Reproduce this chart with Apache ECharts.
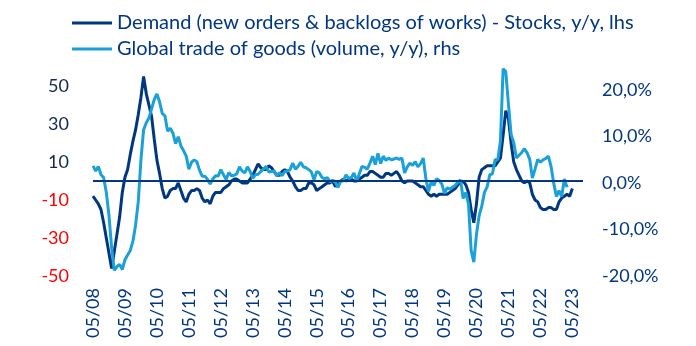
<!DOCTYPE html>
<html>
<head>
<meta charset="utf-8">
<script src="https://cdn.jsdelivr.net/npm/echarts@6/dist/echarts.min.js"></script>
<style>
  html, body { margin: 0; padding: 0; background: #ffffff; }
  #chart { width: 696px; height: 346px; }
</style>
</head>
<body>
<div id="chart"></div>
<script>
// Monthly observations starting May 2008
const startYear = 2008;
const startMonth = 5;
const monthCount = 185; // axis runs to Sep 2023

// Demand (new orders & backlogs of works) - Stocks, y/y (left axis)
const demandStocks = [
  -8, -10, -12, -15, -22, -30, -38, -46, -37, -28,
  -19, -6, 2, 6, 14, 21, 27, 35, 44, 55,
  46, 40, 34, 22, 11, 4, -4, -9, -8, -5,
  -4, -4, -1, -5, -9, -11, -7, -5, -5, -4,
  -5, -9, -11, -10, -12, -8, -6, -6, -6, -4,
  -3, -2, 0, 1, 1, 0, -1, -1, -1, 1,
  3, 6, 9, 7, 6, 6, 8, 7, 5, 3,
  3, 5, 6, 5, 2, 0, -3, -5, -5, -4,
  -4, -1, -1, -2, -5, -4, -3, -2, -1, -1,
  0, -3, -1, 0, 1, 0, 1, 1, 0, 0,
  1, 2, 3, 3, 5, 5, 4, 3, 2, 2,
  4, 4, 3, 4, 5, 3, 0, -1, 0, 0,
  0, -1, -2, -3, -3, -5, -7, -8, -7, -8,
  -7, -7, -7, -7, -6, -5, -4, -2, -1, 0,
  -2, -6, -15, -22, -12, 2, 6, 7, 8, 8,
  8, 8, 10, 12, 24, 37, 33, 20, 10, 6,
  3, 0, -1, 0, -1, -7, -10, -11, -14, -15,
  -15, -14, -14, -15, -15, -11, -9, -8, -7, -8,
  -4
];

// Global trade of goods (volume, y/y), % (right axis)
const globalTrade = [
  3.7, 2.6, 3.6, 1.8, 1.2, -2.0, -7.0, -14.0, -18.8, -18.0,
  -17.5, -18.6, -16.5, -15.5, -14.5, -12.5, -9.0, -4.0, 5.0, 11.5,
  13.0, 14.0, 16.0, 18.0, 19.2, 17.5, 15.0, 14.5, 11.2, 11.8,
  10.8, 8.5, 10.0, 8.0, 7.0, 5.8, 3.0, 4.5, 5.0, 4.6,
  2.8, 1.5, 1.5, 0.8, -0.2, 0.9, 1.6, 1.5, 2.9, 1.8,
  0.8, 2.3, 1.6, 1.7, 2.0, 3.5, 2.6, 2.2, 3.5, 2.5,
  1.0, 1.8, 1.9, 2.5, 3.0, 3.6, 2.4, 2.5, 2.6, 1.6,
  2.2, 1.6, 2.5, 2.6, 2.9, 4.3, 3.0, 3.6, 4.5, 3.5,
  3.3, 2.9, 2.4, 0.7, 2.5, 2.2, 1.2, 0.9, 1.2, 0.3,
  0.6, 0.2, -0.9, 0.4, 0.5, 1.8, 1.0, 1.2, 2.2, 0.4,
  2.0, 3.6, 3.4, 3.0, 4.3, 5.8, 4.0, 6.4, 4.2, 5.8,
  4.9, 5.4, 5.0, 5.2, 5.4, 5.1, 5.4, 2.2, 3.5, 4.3,
  3.8, 4.6, 3.5, 4.2, 5.4, 1.0, -1.8, 0.3, -0.5, 0.9,
  0.6, -0.2, -2.2, -1.0, -1.3, -0.9, -0.5, 0.2, 0.7, -3.3,
  -2.0, -4.5, -14.5, -17.0, -11.0, -7.0, -4.9, -2.0, -0.8, 1.8,
  2.0, 5.1, 5.0, 9.0, 24.6, 24.0, 17.0, 10.5, 8.7, 5.4,
  6.0, 6.6, 7.4, 6.5, 5.1, 1.1, 3.0, 5.1, 4.5, 5.0,
  5.3, 5.8, 3.6, 0.0, -2.9, -1.6, -2.9, 0.9, -0.9
];

// Left and right tick settings
const leftTicks = { min: -50, max: 60, step: 20 };
const rightTicks = { min: -20, max: 25, step: 10 };

const seriesNames = [
  'Demand (new orders & backlogs of works) - Stocks, y/y, lhs',
  'Global trade of goods (volume, y/y), rhs'
];

// Category labels in MM/YY form
const months = [];
for (let k = 0; k < monthCount; k++) {
  const m = (startMonth - 1 + k) % 12 + 1;
  const y = startYear + Math.floor((startMonth - 1 + k) / 12);
  months.push(String(m).padStart(2, '0') + '/' + String(y % 100).padStart(2, '0'));
}

const navy = '#003781';
const sky = '#1ba0d7';
const fontFamily = 'Lato, "Noto Sans", sans-serif';

const chart = echarts.init(document.getElementById('chart'), null, { renderer: 'canvas' });

chart.setOption({
  animation: false,
  backgroundColor: '#ffffff',
  textStyle: { fontFamily: fontFamily },
  legend: {
    orient: 'vertical',
    left: 67,
    top: 8,
    itemWidth: 40,
    itemHeight: 3,
    itemGap: 6,
    icon: 'rect',
    textStyle: { color: navy, fontSize: 20, fontFamily: fontFamily, lineHeight: 20 },
    data: seriesNames
  },
  grid: { left: 93, right: 113, top: 67, bottom: 70, containLabel: false },
  xAxis: {
    type: 'category',
    data: months,
    boundaryGap: false,
    axisLine: { show: false },
    axisTick: { show: false },
    splitLine: { show: false },
    axisLabel: {
      interval: 11,
      rotate: 90,
      margin: 12,
      color: navy,
      fontSize: 18,
      fontFamily: fontFamily
    }
  },
  yAxis: [
    {
      type: 'value',
      min: leftTicks.min,
      max: leftTicks.max,
      interval: leftTicks.step,
      axisLine: { show: false },
      axisTick: { show: false },
      splitLine: { show: false },
      axisLabel: {
        showMaxLabel: false,
        margin: 24,
        fontSize: 18,
        fontFamily: fontFamily,
        color: function (v) { return v < 0 ? '#ff0000' : '#14284f'; }
      }
    },
    {
      type: 'value',
      min: rightTicks.min,
      max: rightTicks.max,
      interval: rightTicks.step,
      axisLine: { show: false },
      axisTick: { show: false },
      splitLine: { show: false },
      axisLabel: {
        showMaxLabel: false,
        margin: 19,
        fontSize: 18,
        fontFamily: fontFamily,
        color: navy,
        formatter: function (v) { return v.toFixed(1).replace('.', ',') + '%'; }
      }
    }
  ],
  series: [
    {
      name: seriesNames[0],
      type: 'line',
      yAxisIndex: 0,
      data: demandStocks,
      symbol: 'none',
      color: navy,
      lineStyle: { width: 3, color: navy },
      markLine: {
        silent: true,
        symbol: ['none', 'none'],
        label: { show: false },
        lineStyle: { color: navy, width: 2, type: 'solid' },
        data: [{ yAxis: 0 }]
      },
      z: 2
    },
    {
      name: seriesNames[1],
      type: 'line',
      yAxisIndex: 1,
      data: globalTrade,
      symbol: 'none',
      color: sky,
      lineStyle: { width: 3, color: sky },
      z: 3
    }
  ]
});
</script>
</body>
</html>
